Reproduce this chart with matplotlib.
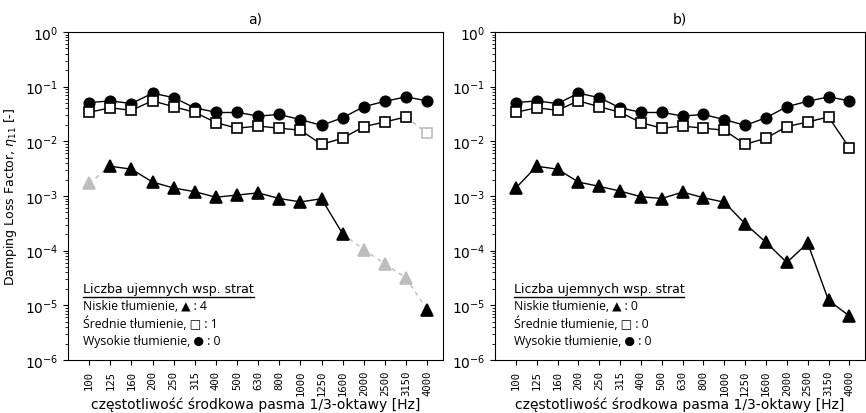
import numpy as np
import matplotlib
matplotlib.use("Agg")
import matplotlib.pyplot as plt

# 1/3-octave band centre frequencies
bands = ["100", "125", "160", "200", "250", "315", "400", "500", "630", "800",
         "1000", "1250", "1600", "2000", "2500", "3150", "4000"]

# Damping loss factor eta_11, negative values = negative loss factors (drawn as |eta| in grey)
# case a)
eta_a_low = [-0.0017, 0.0035, 0.0031, 0.0018, 0.0014, 0.0012, 0.00095, 0.00104, 0.00114,
             0.00090, 0.00078, 0.00089, 0.000203, -0.000105, -0.0000573, -0.0000316, 0.0000083]
eta_a_mid = [0.034, 0.041, 0.037, 0.055, 0.043, 0.034, 0.022, 0.0174, 0.019, 0.0174,
             0.016, 0.0088, 0.0114, 0.0186, 0.0226, 0.028, -0.014]
eta_a_high = [0.051, 0.055, 0.049, 0.076, 0.063, 0.041, 0.034, 0.034, 0.029, 0.031,
              0.025, 0.0196, 0.027, 0.043, 0.054, 0.065, 0.055]

# case b)
eta_b_low = [0.0014, 0.0035, 0.0031, 0.0018, 0.0015, 0.00123, 0.00097, 0.00090, 0.00118,
             0.00093, 0.00077, 0.00031, 0.000142, 0.0000608, 0.000138, 0.0000123, 0.0000064]
eta_b_mid = [0.034, 0.041, 0.037, 0.055, 0.043, 0.034, 0.022, 0.0174, 0.019, 0.0174,
             0.016, 0.0088, 0.0114, 0.0186, 0.0226, 0.028, 0.0076]
eta_b_high = [0.051, 0.055, 0.049, 0.076, 0.063, 0.041, 0.034, 0.034, 0.029, 0.031,
              0.025, 0.0196, 0.027, 0.043, 0.054, 0.065, 0.055]

GREY = "#bdbdbd"


def draw_series(ax, values, marker, ms, face):
    v = np.array(values)
    x = np.arange(len(v))
    y = np.abs(v)
    neg = v < 0
    # connecting segments: solid black between valid points, dashed grey otherwise
    for i in range(len(v) - 1):
        if neg[i] or neg[i + 1]:
            ax.plot(x[i:i + 2], y[i:i + 2], color=GREY, lw=1, ls=(0, (3, 3)), zorder=2)
        else:
            ax.plot(x[i:i + 2], y[i:i + 2], color="black", lw=1, zorder=2)
    ok = ~neg
    ax.plot(x[ok], y[ok], ls="none", marker=marker, ms=ms, mfc=face,
            mec="black", mew=1.2, zorder=3)
    ax.plot(x[neg], y[neg], ls="none", marker=marker, ms=ms,
            mfc=GREY if face == "black" else "white", mec=GREY, mew=1.2, zorder=3)
    return int(neg.sum())


def counts_box(ax, n_low, n_mid, n_high, x0):
    fig = ax.figure
    head = ax.text(x0, 0.207, "Liczba ujemnych wsp. strat", transform=ax.transAxes,
                   fontsize=9, family="DejaVu Sans", va="baseline")
    fig.canvas.draw()
    bb = head.get_window_extent(fig.canvas.get_renderer())
    bb = bb.transformed(ax.transAxes.inverted())
    ax.plot([bb.x0, bb.x1], [0.193, 0.193], transform=ax.transAxes,
            color="black", lw=1, clip_on=False)
    fam = ["Open Sans", "DejaVu Sans"]
    lines = [f"Niskie tłumienie, ▲ : {n_low}",
             f"Średnie tłumienie, □ : {n_mid}",
             f"Wysokie tłumienie, ● : {n_high}"]
    for k, s in enumerate(lines):
        ax.text(x0, 0.155 - k * 0.053, s, transform=ax.transAxes,
                fontsize=8.8, family=fam, va="baseline")


fig = plt.figure(figsize=(8.66, 4.14), dpi=100)
ax_a = fig.add_axes([68 / 866, 53 / 414, 375 / 866, 328 / 414])
ax_b = fig.add_axes([495 / 866, 53 / 414, 370 / 866, 328 / 414])

panels = [(ax_a, "a)", eta_a_low, eta_a_mid, eta_a_high),
          (ax_b, "b)", eta_b_low, eta_b_mid, eta_b_high)]

for ax, title, low, mid, high in panels:
    n_high = draw_series(ax, high, "o", 7.5, "black")
    n_mid = draw_series(ax, mid, "s", 7, "white")
    n_low = draw_series(ax, low, "^", 8, "black")

    ax.set_yscale("log")
    ax.set_ylim(1e-6, 1)
    ax.set_xlim(-1, len(bands) - 0.25)
    ax.set_xticks(np.arange(len(bands)))
    ax.set_xticklabels(bands, rotation=90, family="DejaVu Sans Mono", fontsize=7.6)
    ax.tick_params(axis="y", labelsize=10)
    ax.set_title(title, fontsize=10, pad=7)
    ax.set_xlabel("częstotliwość środkowa pasma 1/3-oktawy [Hz]", fontsize=10, labelpad=1)
    counts_box(ax, n_low, n_mid, n_high, 0.04 if ax is ax_a else 0.05)

ax_a.set_ylabel(r"Damping Loss Factor, $\eta_{11}$ [-]", fontsize=9)

fig.savefig("out.png", dpi=100)
